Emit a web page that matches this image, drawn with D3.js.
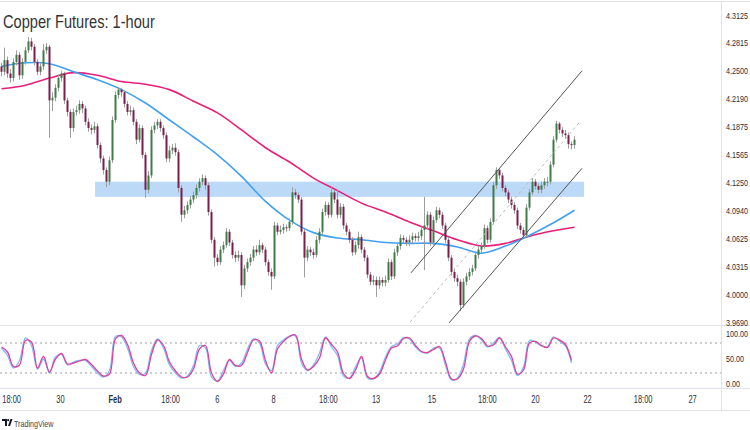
<!DOCTYPE html>
<html><head><meta charset="utf-8">
<script src="https://cdn.jsdelivr.net/npm/d3@7"></script>
<style>html,body{margin:0;padding:0;background:#fff;overflow:hidden;} svg{display:block;}</style>
</head><body>
<script>
const title = "Copper Futures: 1-hour";

const openP = [4.255,4.249,4.262,4.247,4.242,4.260,4.268,4.245,4.260,4.273,4.283,4.277,4.260,4.249,4.255,4.273,4.277,4.217,4.220,4.231,
4.242,4.247,4.217,4.204,4.186,4.204,4.206,4.213,4.208,4.193,4.186,4.184,4.188,4.167,4.152,4.139,4.126,4.150,4.195,4.223,
4.229,4.226,4.213,4.204,4.206,4.193,4.173,4.186,4.156,4.117,4.133,4.184,4.189,4.193,4.186,4.178,4.152,4.161,4.164,4.159,
4.119,4.089,4.094,4.100,4.106,4.111,4.119,4.126,4.130,4.122,4.092,4.061,4.041,4.036,4.050,4.055,4.070,4.058,4.044,4.041,
4.044,4.010,4.029,4.036,4.041,4.050,4.047,4.055,4.050,4.036,4.025,4.020,4.077,4.070,4.072,4.075,4.074,4.081,4.114,4.111,
4.106,4.070,4.041,4.050,4.047,4.044,4.061,4.070,4.092,4.100,4.089,4.114,4.106,4.089,4.098,4.077,4.070,4.061,4.047,4.055,
4.064,4.050,4.041,4.022,4.014,4.016,4.010,4.016,4.013,4.016,4.036,4.020,4.047,4.054,4.063,4.061,4.058,4.061,4.065,4.063,
4.065,4.072,4.077,4.089,4.058,4.083,4.094,4.089,4.077,4.061,4.041,4.025,4.018,4.014,3.988,4.014,4.020,4.025,4.029,4.044,
4.050,4.054,4.074,4.061,4.081,4.122,4.139,4.133,4.119,4.114,4.106,4.100,4.094,4.077,4.072,4.066,4.097,4.114,4.126,4.121,
4.117,4.122,4.126,4.126,4.145,4.173,4.191,4.184,4.180,4.178,4.168,4.167];
const highP = [4.259,4.276,4.266,4.252,4.264,4.273,4.271,4.264,4.277,4.288,4.287,4.280,4.263,4.259,4.280,4.281,4.279,4.226,4.235,4.246,
4.250,4.249,4.220,4.207,4.208,4.211,4.217,4.216,4.211,4.197,4.190,4.193,4.191,4.170,4.155,4.142,4.154,4.199,4.227,4.232,
4.231,4.228,4.216,4.211,4.209,4.196,4.190,4.189,4.159,4.138,4.188,4.193,4.196,4.196,4.189,4.181,4.166,4.168,4.169,4.162,
4.122,4.099,4.104,4.110,4.115,4.123,4.130,4.134,4.133,4.125,4.095,4.064,4.045,4.054,4.059,4.074,4.073,4.061,4.048,4.049,
4.047,4.033,4.040,4.045,4.054,4.055,4.061,4.058,4.053,4.039,4.029,4.081,4.080,4.077,4.079,4.078,4.085,4.120,4.118,4.114,
4.109,4.073,4.054,4.053,4.051,4.065,4.074,4.096,4.104,4.103,4.121,4.117,4.117,4.102,4.101,4.080,4.073,4.064,4.059,4.070,
4.067,4.053,4.044,4.025,4.021,4.020,4.020,4.019,4.021,4.040,4.039,4.051,4.058,4.067,4.066,4.064,4.066,4.069,4.068,4.070,
4.076,4.109,4.093,4.092,4.087,4.098,4.097,4.092,4.080,4.064,4.044,4.029,4.022,4.017,4.018,4.024,4.029,4.033,4.048,4.054,
4.058,4.078,4.077,4.085,4.126,4.142,4.141,4.136,4.122,4.117,4.109,4.103,4.097,4.080,4.075,4.101,4.118,4.130,4.129,4.124,
4.126,4.130,4.131,4.149,4.177,4.194,4.193,4.187,4.184,4.181,4.171,4.177];
const lowP = [4.244,4.245,4.242,4.237,4.238,4.256,4.240,4.241,4.257,4.270,4.273,4.256,4.245,4.245,4.251,4.269,4.175,4.205,4.216,4.227,
4.238,4.213,4.199,4.175,4.182,4.200,4.202,4.203,4.189,4.182,4.179,4.180,4.163,4.147,4.134,4.120,4.122,4.147,4.192,4.219,
4.221,4.209,4.200,4.200,4.189,4.168,4.170,4.152,4.108,4.113,4.130,4.180,4.185,4.182,4.174,4.148,4.148,4.157,4.155,4.114,
4.081,4.085,4.090,4.096,4.102,4.107,4.115,4.122,4.117,4.088,4.057,4.031,4.032,4.033,4.046,4.052,4.054,4.040,4.036,4.037,
3.997,4.006,4.025,4.032,4.037,4.043,4.044,4.046,4.032,4.021,4.005,4.017,4.066,4.067,4.068,4.070,4.071,4.078,4.107,4.102,
4.066,4.019,4.037,4.043,4.040,4.041,4.057,4.067,4.088,4.085,4.086,4.102,4.085,4.085,4.073,4.066,4.057,4.043,4.044,4.051,
4.046,4.037,4.018,4.010,4.010,3.997,4.006,4.009,4.009,4.013,4.016,4.017,4.043,4.050,4.057,4.054,4.054,4.057,4.059,4.059,
4.061,4.027,4.073,4.054,4.055,4.080,4.085,4.073,4.057,4.037,4.021,4.014,4.009,3.981,3.985,4.010,4.016,4.021,4.026,4.040,
4.046,4.051,4.057,4.058,4.078,4.118,4.129,4.115,4.110,4.102,4.096,4.090,4.073,4.068,4.063,4.064,4.094,4.111,4.117,4.113,
4.113,4.118,4.121,4.123,4.142,4.170,4.180,4.176,4.174,4.163,4.162,4.163];
const closeP = [4.249,4.262,4.247,4.242,4.260,4.268,4.245,4.260,4.273,4.283,4.277,4.260,4.249,4.255,4.273,4.277,4.217,4.220,4.231,4.242,
4.247,4.217,4.204,4.186,4.204,4.206,4.213,4.208,4.193,4.186,4.184,4.188,4.167,4.152,4.139,4.126,4.150,4.195,4.223,4.229,
4.226,4.213,4.204,4.206,4.193,4.173,4.186,4.156,4.117,4.133,4.184,4.189,4.193,4.186,4.178,4.152,4.161,4.164,4.159,4.119,
4.089,4.094,4.100,4.106,4.111,4.119,4.126,4.130,4.122,4.092,4.061,4.041,4.036,4.050,4.055,4.070,4.058,4.044,4.041,4.044,
4.010,4.029,4.036,4.041,4.050,4.047,4.055,4.050,4.036,4.025,4.020,4.077,4.070,4.072,4.075,4.074,4.081,4.114,4.111,4.106,
4.070,4.041,4.050,4.047,4.044,4.061,4.070,4.092,4.100,4.089,4.114,4.106,4.089,4.098,4.077,4.070,4.061,4.047,4.055,4.064,
4.050,4.041,4.022,4.014,4.016,4.010,4.016,4.013,4.016,4.036,4.020,4.047,4.054,4.063,4.061,4.058,4.061,4.065,4.063,4.065,
4.072,4.077,4.089,4.058,4.083,4.094,4.089,4.077,4.061,4.041,4.025,4.018,4.014,3.988,4.014,4.020,4.025,4.029,4.044,4.050,
4.054,4.074,4.061,4.081,4.122,4.139,4.133,4.119,4.114,4.106,4.100,4.094,4.077,4.072,4.066,4.097,4.114,4.126,4.121,4.117,
4.122,4.126,4.126,4.145,4.173,4.191,4.184,4.180,4.178,4.168,4.167,4.173];

const maBars = [0,8,16,24,32,40,48,56,64,72,80,88,96,104,112,120,128,136,144,152,160,168,176,184,191];
const maBlue = [4.255,4.259,4.258,4.249,4.240,4.229,4.214,4.195,4.176,4.156,4.132,4.104,4.083,4.069,4.063,4.061,4.058,4.057,4.057,4.053,4.046,4.054,4.066,4.080,4.094];
const maPink = [4.230,4.234,4.242,4.248,4.245,4.238,4.235,4.229,4.216,4.203,4.184,4.164,4.148,4.130,4.116,4.102,4.092,4.081,4.071,4.061,4.054,4.057,4.065,4.071,4.075];

const stochBars = d3.range(0, 192, 2);
const stochK = [70,55,30,45,90,75,28,48,20,52,57,36,42,45,45,33,20,12,25,93,92,70,33,17,20,65,88,70,36,20,10,14,35,75,70,12,4,25,45,33,40,68,88,80,38,25,75,86,94,94,40,25,36,60,92,72,55,14,10,32,50,10,8,22,52,73,78,91,88,72,62,60,70,70,35,6,10,38,88,95,86,72,80,91,68,45,15,32,85,82,74,73,92,84,74,40];
const stochD = [72,62,33,36,85,82,30,53,22,48,59,38,40,44,47,37,24,14,18,88,95,77,40,20,15,57,86,75,42,24,12,12,28,68,75,20,3,18,47,35,35,61,86,84,45,20,68,83,93,96,48,26,33,50,90,77,62,19,9,26,53,13,9,18,46,70,74,89,90,75,63,61,67,73,42,8,8,28,83,94,89,74,76,90,72,53,18,26,80,83,75,71,90,86,77,45];

const priceTicks = [4.3125,4.2815,4.2500,4.2190,4.1875,4.1565,4.1250,4.0940,4.0625,4.0315,4.0000,3.9690];
const stochTicks = [100,50,0];
const stochLevels = [80,20];
const timeTickBars = [3.2,19.5,37.7,56.2,71.8,90.5,108.8,124.7,143.3,161.8,177.8,195.2,213.7,230.2];
const timeTickLabels = ["18:00","30","Feb","18:00","6","8","18:00","13","15","18:00","20","22","18:00","27"];

const zoneBars = [31.2, 194.2];
const zonePrices = [4.109, 4.126];
const channelUpper = [[136.5,4.024],[193.5,4.250]];
const channelLower = [[149.2,3.968],[193.5,4.141]];
const channelMid = [[136.2,3.969],[192.8,4.193]];

// ---------------- drawing ----------------
const W = 750, H = 430;
const paneRight = 721.5;
const mainTop = 2, mainBottom = 325.5;
const stTop = 326, stBottom = 388.5;
const axisBottom = 410.5;
const font = "'Liberation Sans', Arial, sans-serif";
const gridCol = "#e0e3eb";
const textCol = "#2a2e39";
const NARROW = 0.75;

const svg = d3.select("body").append("svg").attr("width", W).attr("height", H);

const x = d3.scaleLinear().domain([-0.5, 240]).range([0, paneRight]);
const y = d3.scaleLinear().domain([3.969, 4.3125]).range([322, 15]);
const ys = d3.scaleLinear().domain([0, 100]).range([383, 333]);

const defs = svg.append("defs");
defs.append("clipPath").attr("id","mainClip").append("rect")
  .attr("x",0).attr("y",mainTop).attr("width",paneRight).attr("height",mainBottom-mainTop);
defs.append("clipPath").attr("id","stClip").append("rect")
  .attr("x",0).attr("y",stTop).attr("width",paneRight).attr("height",stBottom-stTop);

// frame lines
const frame = svg.append("g").attr("stroke", gridCol).attr("stroke-width",1).attr("shape-rendering","crispEdges");
frame.append("line").attr("x1",0).attr("x2",W).attr("y1",1.5).attr("y2",1.5);
frame.append("line").attr("x1",0).attr("x2",W).attr("y1",mainBottom).attr("y2",mainBottom);
frame.append("line").attr("x1",0).attr("x2",W).attr("y1",stBottom).attr("y2",stBottom);
frame.append("line").attr("x1",0).attr("x2",W).attr("y1",axisBottom).attr("y2",axisBottom);
frame.append("line").attr("x1",paneRight).attr("x2",paneRight).attr("y1",1).attr("y2",axisBottom);

const main = svg.append("g").attr("clip-path","url(#mainClip)");

// zone
main.append("rect")
  .attr("x", x(zoneBars[0])).attr("width", x(zoneBars[1]) - x(zoneBars[0]))
  .attr("y", y(zonePrices[1])).attr("height", y(zonePrices[0]) - y(zonePrices[1]))
  .attr("fill", "#bcd9f7");

// moving averages
const maLine = arr => d3.line().x((d,i)=>x(maBars[i])).y(d=>y(d)).curve(d3.curveCatmullRom)(arr);
main.append("path").attr("d", maLine(maPink)).attr("fill","none").attr("stroke","#e91e78").attr("stroke-width",1.6);
main.append("path").attr("d", maLine(maBlue)).attr("fill","none").attr("stroke","#42a0f0").attr("stroke-width",1.6);

// candles
const candles = closeP.map((c,i)=>({i, o:openP[i], h:highP[i], l:lowP[i], c}));
const cg = main.append("g");
cg.selectAll("line.wick").data(candles).join("line").attr("class","wick")
  .attr("x1",d=>x(d.i)).attr("x2",d=>x(d.i))
  .attr("y1",d=>y(d.h)).attr("y2",d=>y(d.l))
  .attr("stroke","#9e9e9e").attr("stroke-width",1);
cg.selectAll("rect.body").data(candles).join("rect").attr("class","body")
  .attr("x",d=>x(d.i)-1).attr("width",2)
  .attr("y",d=>y(Math.max(d.o,d.c)))
  .attr("height",d=>Math.max(1, Math.abs(y(d.o)-y(d.c))))
  .attr("fill",d=>d.c>=d.o ? "#3e7d46" : "#7a1f4c");

// channel
const seg = (pts) => d3.line().x(d=>x(d[0])).y(d=>y(d[1]))(pts);
main.append("path").attr("d", seg(channelUpper)).attr("stroke","#555").attr("stroke-width",1).attr("fill","none");
main.append("path").attr("d", seg(channelLower)).attr("stroke","#555").attr("stroke-width",1).attr("fill","none");
main.append("path").attr("d", seg(channelMid)).attr("stroke","#bbb").attr("stroke-width",1).attr("stroke-dasharray","3,3").attr("fill","none");

// title (horizontally condensed with a transform)
const tt = svg.append("text").attr("x",0).attr("y",0).text(title)
  .attr("font-family",font).attr("font-size",19).attr("fill","#333");
const tLen = tt.node().getComputedTextLength();
tt.attr("transform",`translate(3,28) scale(${152 / tLen},1)`);

// price axis
const pAxis = svg.append("g").attr("transform",`translate(${paneRight},0)`)
  .call(d3.axisRight(y).tickValues(priceTicks).tickFormat(d3.format(".4f")).tickSize(0).tickPadding(0));
pAxis.select(".domain").remove();
pAxis.selectAll("text").attr("font-family",font).attr("font-size",9.6).attr("fill",textCol)
  .attr("x", 0).attr("transform", `translate(4.5,0) scale(${NARROW},1)`);

// stochastic pane
const st = svg.append("g").attr("clip-path","url(#stClip)");
st.selectAll("line.lvl").data(stochLevels).join("line").attr("class","lvl")
  .attr("x1",0).attr("x2",paneRight).attr("y1",d=>ys(d)).attr("y2",d=>ys(d))
  .attr("stroke","#9e9e9e").attr("stroke-width",1).attr("stroke-dasharray","2,3");
const stLine = arr => d3.line().x((d,i)=>x(stochBars[i])).y(d=>ys(d)).curve(d3.curveCatmullRom)(arr);
st.append("path").attr("d", stLine(stochK)).attr("fill","none").attr("stroke","#7fbdf5").attr("stroke-width",1.3);
st.append("path").attr("d", stLine(stochD)).attr("fill","none").attr("stroke","#e0409a").attr("stroke-width",1.3);

const sAxis = svg.append("g").attr("transform",`translate(${paneRight},0)`)
  .call(d3.axisRight(ys).tickValues(stochTicks).tickFormat(d3.format(".2f")).tickSize(0).tickPadding(0));
sAxis.select(".domain").remove();
sAxis.selectAll("text").attr("font-family",font).attr("font-size",9.6).attr("fill",textCol)
  .attr("x", 0).attr("transform", `translate(4.5,0) scale(${NARROW},1)`);

// time axis
const tAxis = svg.append("g").attr("transform",`translate(0,${stBottom})`)
  .call(d3.axisBottom(x).tickValues(timeTickBars).tickFormat((d,i)=>timeTickLabels[i]).tickSize(0).tickPadding(7));
tAxis.select(".domain").remove();
tAxis.selectAll("text").attr("font-family",font).attr("font-size",10).attr("fill",textCol)
  .attr("font-weight",(d,i)=>timeTickLabels[i]==="Feb"?"bold":"normal")
  .attr("transform", `scale(${NARROW},1)`)
  .attr("x", 0);
// keep label centred on tick after scaling: move the tick group content instead
tAxis.selectAll(".tick text").each(function(){ d3.select(this).attr("transform", `scale(${NARROW},1)`); });

// TradingView mark
const tv = svg.append("g").attr("transform","translate(2,419)");
tv.append("path").attr("d","M0,0 H5 V7 H3 V2 H0 Z").attr("fill","#131722");
tv.append("circle").attr("cx",6.2).attr("cy",1.2).attr("r",1.1).attr("fill","#131722");
tv.append("path").attr("d","M6,7 L8.5,0 H10.5 L8,7 Z").attr("fill","#131722");
svg.append("text").attr("x",0).attr("y",0).text("TradingView")
  .attr("font-family",font).attr("font-size",9).attr("fill","#444")
  .attr("transform","translate(14,426.5) scale(0.8,1)");
</script>
</body></html>
